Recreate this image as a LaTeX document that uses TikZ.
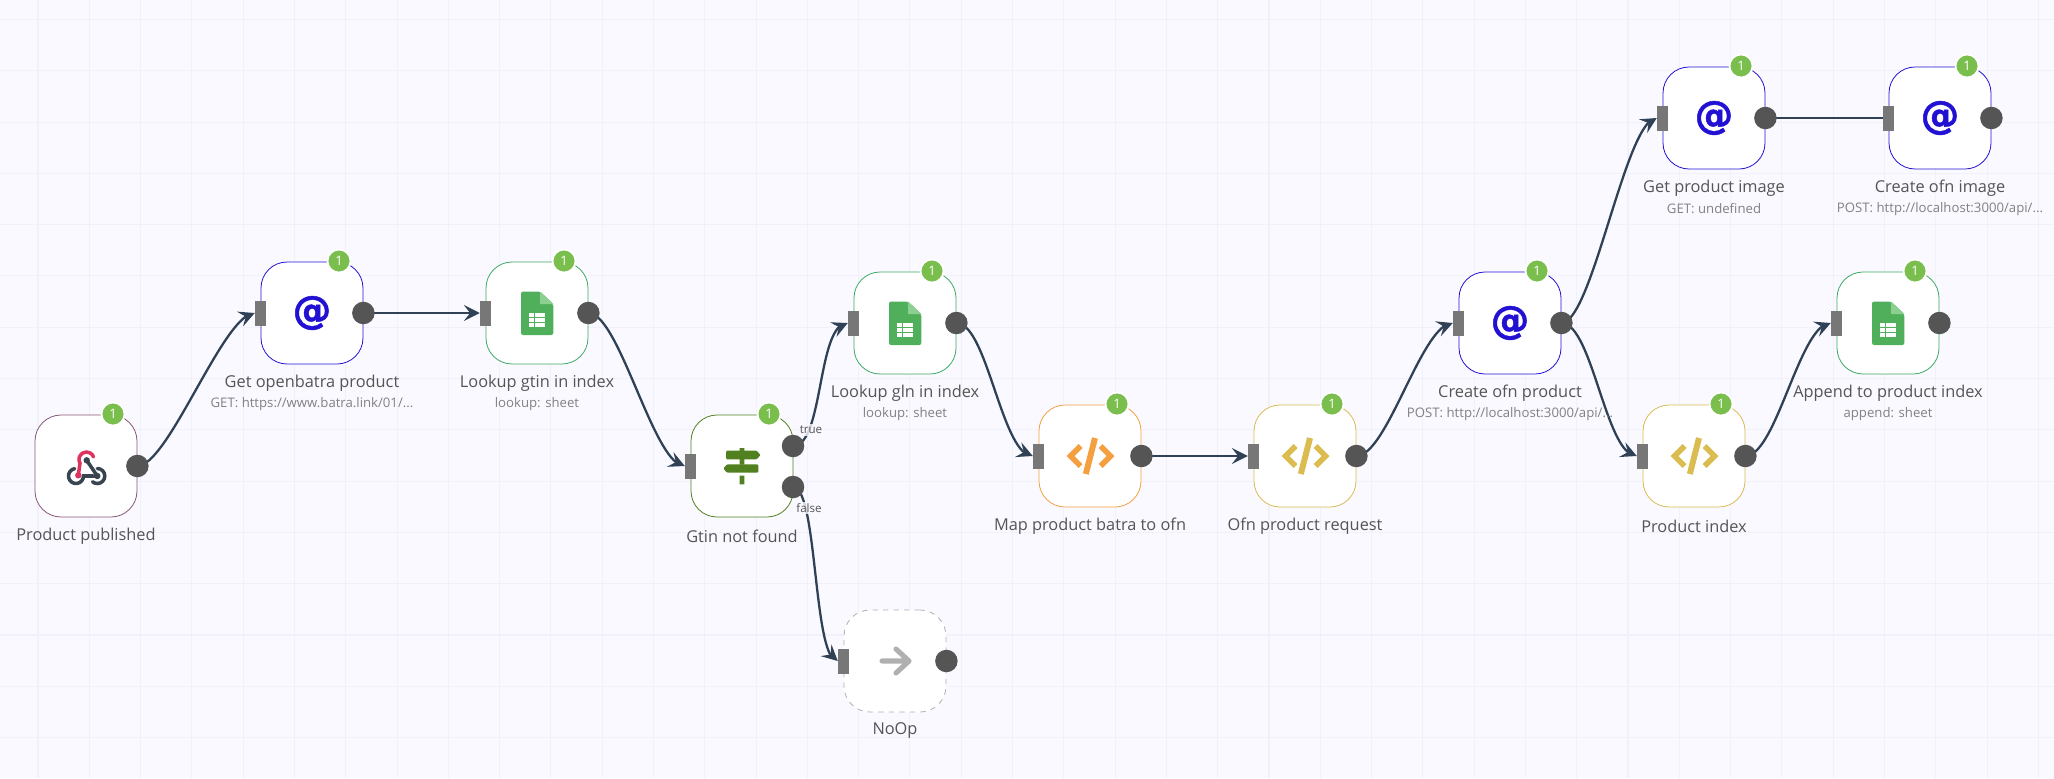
\documentclass[tikz,border=0pt]{standalone}
\usepackage{fontspec}
\setmainfont{Open Sans}
\newfontfamily\iconfont[FakeBold=1.2]{DejaVu Sans}
\usepackage{xcolor}
\usepackage{tikz}
\usetikzlibrary{arrows.meta,bending,calc,backgrounds}
\definecolor{CanvasBg}{RGB}{249,249,255}
\definecolor{CanvasGrid}{RGB}{241,241,251}
\definecolor{LinkDark}{RGB}{48,65,86}
\definecolor{PortIn}{RGB}{119,119,119}
\definecolor{PortOut}{RGB}{85,85,85}
\definecolor{BadgeGreen}{RGB}{122,190,78}
\definecolor{TitleGrey}{RGB}{85,85,85}
\definecolor{SubGrey}{RGB}{130,130,130}
\definecolor{HookEdge}{RGB}{136,85,119}
\definecolor{HookRed}{RGB}{221,51,94}
\definecolor{HookDark}{RGB}{56,68,80}
\definecolor{HttpBlue}{RGB}{34,17,210}
\definecolor{SheetEdge}{RGB}{60,170,100}
\definecolor{SheetGreen}{RGB}{80,175,90}
\definecolor{SheetFold}{RGB}{140,208,145}
\definecolor{IfGreen}{RGB}{80,128,32}
\definecolor{MapOrange}{RGB}{245,160,64}
\definecolor{CodeYellow}{RGB}{218,188,80}
\definecolor{NoopGrey}{RGB}{176,176,176}
\tikzset{
  wfbox/.style={draw=#1,fill=white,rounded corners=0.52cm,line width=0.45pt,minimum size=2.04cm,inner sep=0pt},
  portin/.style={fill=PortIn,minimum width=0.22cm,minimum height=0.5cm,inner sep=0pt},
  portout/.style={circle,fill=PortOut,minimum size=0.45cm,inner sep=0pt},
  badge/.style={circle,fill=BadgeGreen,draw=white,line width=1pt,minimum size=0.46cm,inner sep=0pt,text=white,font=\fontsize{7.4}{8}\selectfont},
  nodetitle/.style={text=TitleGrey,font=\fontsize{9.3}{11}\selectfont,inner sep=0pt},
  nodesub/.style={text=SubGrey,font=\fontsize{7.5}{9}\selectfont,inner sep=0pt},
  branch/.style={text=TitleGrey,fill=CanvasBg,fill opacity=0.8,text opacity=1,font=\fontsize{6.6}{8}\selectfont,inner sep=1pt},
  link/.style={draw=LinkDark,line width=1.3pt,-{Stealth[length=9pt,width=9pt,inset=3.5pt]}},
  bent/.style={out=0,in=180,distance=#1},
  bent/.default=0.62cm,
  httpicon/.style={text=HttpBlue,font=\iconfont\bfseries\fontsize{22}{22}\selectfont,inner sep=0pt},
  pics/hookicon/.style={code={
    \draw[HookRed,line width=2pt,line cap=round] (-7.7,7.3) -- (-6,-4.75) arc (150:340:7.5);
    \fill[HookRed] (-7.7,7.3) circle (3.2);
    \draw[HookDark,line width=2pt] (0.7,-7.7) -- (11.3,8);
    \draw[HookDark,line width=2pt,line cap=round] (-11.3,0.6) arc (-100:-360:7.5) -- (11.3,8);
    \draw[HookDark,line width=2pt,line cap=round] (11.3,0.5) arc (-90:130:7.5);
    \fill[HookDark] (0.7,-7.7) circle (3.2) (11.3,8) circle (3.2);
  }},
  pics/sheeticon/.style={code={
    \fill[SheetGreen,rounded corners=1.2pt] (-16,-21.5) -- (3,-21.5) -- (16.3,-9) -- (16.3,22) -- (-16,22) -- cycle;
    \fill[SheetFold] (3,-21.5) -- (16.3,-9) -- (3,-9) -- cycle;
    \fill[white] (-8,0) rectangle (7.5,14);
    \draw[SheetGreen,line width=0.6pt] (-8,4.6) -- (7.5,4.6) (-8,9.3) -- (7.5,9.3) (-2.5,0) -- (-2.5,14);
  }},
  pics/signicon/.style={code={
    \fill[IfGreen,rounded corners=0.6pt] (-16,-15.3) -- (14.7,-15.3) -- (18.5,-11) -- (14.7,-6.7) -- (-16,-6.7) -- cycle;
    \fill[IfGreen,rounded corners=0.6pt] (16.3,-1.7) -- (-15,-1.7) -- (-18.7,2.5) -- (-15,6.7) -- (16.3,6.7) -- cycle;
    \fill[IfGreen] (-2.4,-18) rectangle (2.4,-15) (-2.4,-7) rectangle (2.4,-1.5) (-2.4,9.7) rectangle (2.4,18.3);
  }},
  pics/codeicon/.style={code={
    \draw[#1,line width=3.2pt,miter limit=4] (-9.5,-10) -- (-19.5,0) -- (-9.5,10);
    \draw[#1,line width=3.2pt,miter limit=4] (10.5,-10) -- (20.5,0) -- (10.5,10);
    \draw[#1,line width=3.4pt] (5,-18) -- (-4.2,18);
  }},
  pics/arrowicon/.style={code={
    \draw[NoopGrey,line width=2.9pt,line cap=round,line join=round] (-13,0) -- (14,0) (1,-12) -- (14,0) -- (1,12);
  }},
}
\begin{document}
\begin{tikzpicture}[x=0.02cm,y=-0.02cm]
  \useasboundingbox (0,0) rectangle (2054,778);
  % webhook trigger
  \node[wfbox=HookEdge] (published) at (86,466) {};
  \node[portout] (publishedOut) at (published.east) {};
  \node[badge] (publishedBadge) at ($(published)+(27,-52)$) {1};
  \node[nodetitle] (publishedTitle) at ($(published)+(0,70)$) {Product published};
  \pic at ($(published)+(0,2)$) {hookicon};
  % openbatra
  \node[wfbox=HttpBlue] (getBatra) at (312,313) {};
  \node[portin] (getBatraIn) at (getBatra.west) {};
  \node[portout] (getBatraOut) at (getBatra.east) {};
  \node[badge] (getBatraBadge) at ($(getBatra)+(27,-52)$) {1};
  \node[httpicon] (getBatraIcon) at (getBatra) {@};
  \node[nodetitle] (getBatraTitle) at ($(getBatra)+(0,70)$) {Get openbatra product};
  \node[nodesub] (getBatraSub) at ($(getBatra)+(0,91)$) {GET: https://www.batra.link/01/...};
  % gtin lookup
  \node[wfbox=SheetEdge] (lookupGtin) at (537,313) {};
  \node[portin] (lookupGtinIn) at (lookupGtin.west) {};
  \node[portout] (lookupGtinOut) at (lookupGtin.east) {};
  \node[badge] (lookupGtinBadge) at ($(lookupGtin)+(27,-52)$) {1};
  \pic at (lookupGtin) {sheeticon};
  \node[nodetitle] (lookupGtinTitle) at ($(lookupGtin)+(0,70)$) {Lookup gtin in index};
  \node[nodesub] (lookupGtinSub) at ($(lookupGtin)+(0,91)$) {lookup: sheet};
  % branch
  \node[wfbox=IfGreen] (gtinIf) at (742,466) {};
  \node[portin] (gtinIfIn) at (gtinIf.west) {};
  \node[portout] (gtinIfTrue) at (793,446) {};
  \node[portout] (gtinIfFalse) at (793,487) {};
  \node[badge] (gtinIfBadge) at ($(gtinIf)+(27,-52)$) {1};
  \pic at (gtinIf) {signicon};
  \node[nodetitle] (gtinIfTitle) at ($(gtinIf)+(0,70)$) {Gtin not found};
  \node[branch] (trueLabel) at (811,430) {true};
  \node[branch] (falseLabel) at (809,508) {false};
  % noop
  \node[wfbox=NoopGrey,dashed] (noOp) at (895,661) {};
  \node[portin] (noOpIn) at (noOp.west) {};
  \node[portout] (noOpOut) at (noOp.east) {};
  \pic at (noOp) {arrowicon};
  \node[nodetitle] (noOpTitle) at ($(noOp)+(0,70)$) {NoOp};
  % gln lookup
  \node[wfbox=SheetEdge] (lookupGln) at (905,323) {};
  \node[portin] (lookupGlnIn) at (lookupGln.west) {};
  \node[portout] (lookupGlnOut) at (lookupGln.east) {};
  \node[badge] (lookupGlnBadge) at ($(lookupGln)+(27,-52)$) {1};
  \pic at (lookupGln) {sheeticon};
  \node[nodetitle] (lookupGlnTitle) at ($(lookupGln)+(0,70)$) {Lookup gln in index};
  \node[nodesub] (lookupGlnSub) at ($(lookupGln)+(0,91)$) {lookup: sheet};
  % mapping
  \node[wfbox=MapOrange] (mapBatra) at (1090,456) {};
  \node[portin] (mapBatraIn) at (mapBatra.west) {};
  \node[portout] (mapBatraOut) at (mapBatra.east) {};
  \node[badge] (mapBatraBadge) at ($(mapBatra)+(27,-52)$) {1};
  \pic at (mapBatra) {codeicon=MapOrange};
  \node[nodetitle] (mapBatraTitle) at ($(mapBatra)+(0,70)$) {Map product batra to ofn};
  % request
  \node[wfbox=CodeYellow] (ofnRequest) at (1305,456) {};
  \node[portin] (ofnRequestIn) at (ofnRequest.west) {};
  \node[portout] (ofnRequestOut) at (ofnRequest.east) {};
  \node[badge] (ofnRequestBadge) at ($(ofnRequest)+(27,-52)$) {1};
  \pic at (ofnRequest) {codeicon=CodeYellow};
  \node[nodetitle] (ofnRequestTitle) at ($(ofnRequest)+(0,70)$) {Ofn product request};
  % create product
  \node[wfbox=HttpBlue] (createProduct) at (1510,323) {};
  \node[portin] (createProductIn) at (createProduct.west) {};
  \node[portout] (createProductOut) at (createProduct.east) {};
  \node[badge] (createProductBadge) at ($(createProduct)+(27,-52)$) {1};
  \node[httpicon] (createProductIcon) at (createProduct) {@};
  \node[nodetitle] (createProductTitle) at ($(createProduct)+(0,70)$) {Create ofn product};
  \node[nodesub] (createProductSub) at ($(createProduct)+(0,91)$) {POST: http://localhost:3000/api/...};
  % index
  \node[wfbox=CodeYellow] (productIndex) at (1694,456) {};
  \node[portin] (productIndexIn) at (productIndex.west) {};
  \node[portout] (productIndexOut) at (productIndex.east) {};
  \node[badge] (productIndexBadge) at ($(productIndex)+(27,-52)$) {1};
  \pic at (productIndex) {codeicon=CodeYellow};
  \node[nodetitle] (productIndexTitle) at ($(productIndex)+(0,70)$) {Product index};
  % append
  \node[wfbox=SheetEdge] (appendIndex) at (1888,323) {};
  \node[portin] (appendIndexIn) at (appendIndex.west) {};
  \node[portout] (appendIndexOut) at (appendIndex.east) {};
  \node[badge] (appendIndexBadge) at ($(appendIndex)+(27,-52)$) {1};
  \pic at (appendIndex) {sheeticon};
  \node[nodetitle] (appendIndexTitle) at ($(appendIndex)+(0,70)$) {Append to product index};
  \node[nodesub] (appendIndexSub) at ($(appendIndex)+(0,91)$) {append: sheet};
  % images
  \node[wfbox=HttpBlue] (getImage) at (1714,118) {};
  \node[portin] (getImageIn) at (getImage.west) {};
  \node[portout] (getImageOut) at (getImage.east) {};
  \node[badge] (getImageBadge) at ($(getImage)+(27,-52)$) {1};
  \node[httpicon] (getImageIcon) at (getImage) {@};
  \node[nodetitle] (getImageTitle) at ($(getImage)+(0,70)$) {Get product image};
  \node[nodesub] (getImageSub) at ($(getImage)+(0,91)$) {GET: undefined};
  \node[wfbox=HttpBlue] (createImage) at (1940,118) {};
  \node[portin] (createImageIn) at (createImage.west) {};
  \node[portout] (createImageOut) at (createImage.east) {};
  \node[badge] (createImageBadge) at ($(createImage)+(27,-52)$) {1};
  \node[httpicon] (createImageIcon) at (createImage) {@};
  \node[nodetitle] (createImageTitle) at ($(createImage)+(0,70)$) {Create ofn image};
  \node[nodesub] (createImageSub) at ($(createImage)+(0,91)$) {POST: http://localhost:3000/api/...};
  % canvas and links go behind the nodes
  \begin{scope}[on background layer]
    \fill[CanvasBg] (0,0) rectangle (2054,778);
    \draw[CanvasGrid,line width=0.6pt,shift={(38,19.5)},step=1.026cm] (-38,-19.5) grid (2016,758.5);
    \draw[link] (publishedOut.center) to[bent] (getBatraIn.west);
    \draw[link] (getBatraOut.center) -- (lookupGtinIn.west);
    \draw[link] (lookupGtinOut.center) to[bent] (gtinIfIn.west);
    \draw[link] (gtinIfTrue.center) to[bent] (lookupGlnIn.west);
    \draw[link] (gtinIfFalse.center) to[bent=0.5cm] (noOpIn.west);
    \draw[link] (lookupGlnOut.center) to[bent] (mapBatraIn.west);
    \draw[link] (mapBatraOut.center) -- (ofnRequestIn.west);
    \draw[link] (ofnRequestOut.center) to[bent] (createProductIn.west);
    \draw[link] (createProductOut.center) to[bent] (getImageIn.west);
    \draw[link] (createProductOut.center) to[bent] (productIndexIn.west);
    \draw[link] (productIndexOut.center) to[bent] (appendIndexIn.west);
    \draw[link,-] (getImageOut.center) -- (createImageIn.west);
  \end{scope}
\end{tikzpicture}
\end{document}
